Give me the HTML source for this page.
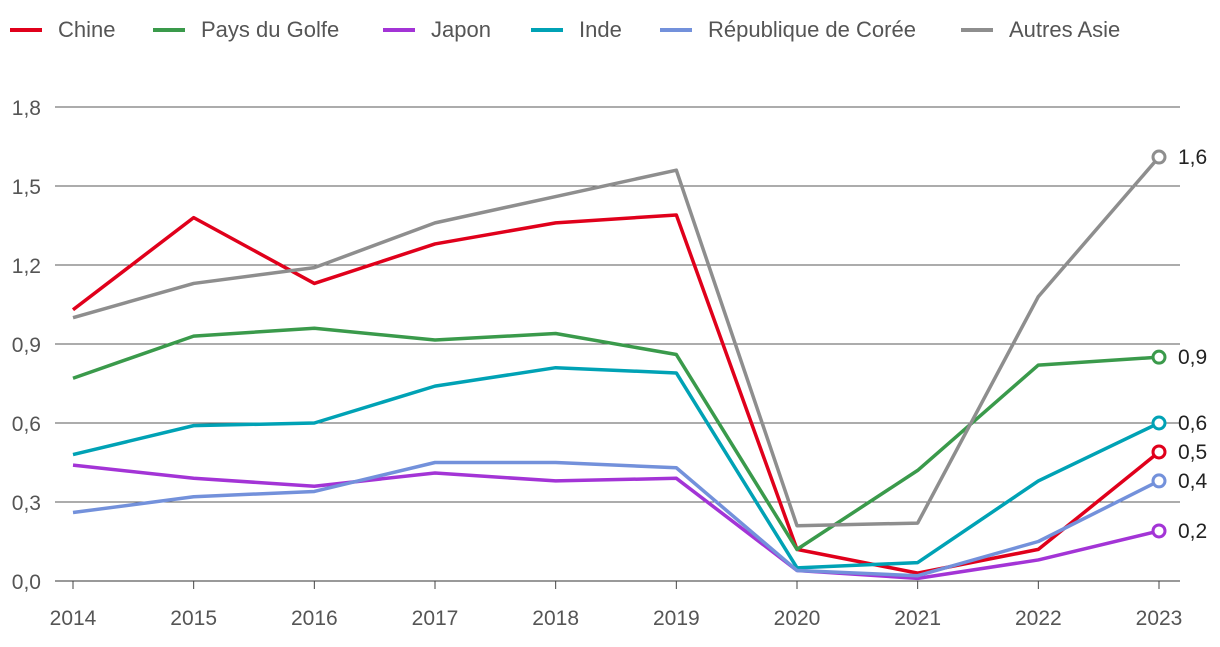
<!DOCTYPE html>
<html><head><meta charset="utf-8"><style>
body{margin:0;background:#fff;font-family:"Liberation Sans",sans-serif;}
svg text{font-family:"Liberation Sans",sans-serif;}
</style></head><body>
<svg id="c" width="1220" height="642"></svg>
<script>
const years=[2014,2015,2016,2017,2018,2019,2020,2021,2022,2023];
const seriesNames=["Chine","Pays du Golfe","Japon","Inde","République de Corée","Autres Asie"];
const seriesColors=["#e0001b","#3a9a4b","#a334d6","#00a2b5","#7391db","#8e8e8e"];
const chine=[1.03,1.38,1.13,1.28,1.36,1.39,0.12,0.03,0.12,0.49];
const golfe=[0.77,0.93,0.96,0.915,0.94,0.86,0.12,0.42,0.82,0.85];
const japon=[0.44,0.39,0.36,0.41,0.38,0.39,0.04,0.01,0.08,0.19];
const inde=[0.48,0.59,0.60,0.74,0.81,0.79,0.05,0.07,0.38,0.60];
const coree=[0.26,0.32,0.34,0.45,0.45,0.43,0.04,0.02,0.15,0.38];
const autres=[1.00,1.13,1.19,1.36,1.46,1.56,0.21,0.22,1.08,1.61];
const yTicks=[0,0.3,0.6,0.9,1.2,1.5,1.8];
const endLabels=["0,5","0,9","0,2","0,6","0,4","1,6"];
const allSeries=[chine,golfe,japon,inde,coree,autres];
const NS="http://www.w3.org/2000/svg";
const svg=document.getElementById('c');
const x=i=>73+i*(1159-73)/(years.length-1);
const y=v=>581-v*(474/1.8);
function el(t,a,p){const e=document.createElementNS(NS,t);for(const k in a)e.setAttribute(k,a[k]);(p||svg).appendChild(e);return e;}
yTicks.forEach(t=>{
  const g=el('line',{x1:55,x2:1180,y1:y(t),y2:y(t),stroke:t===0?'#333':'#5a5a5a','stroke-width':1});
  
  
  const tx=el('text',{x:41,y:y(t)+8,'text-anchor':'end','font-size':21,fill:'#555'});
  tx.textContent=t.toFixed(1).replace('.',',');
  
  
});
years.forEach((yr,i)=>{
  const tk=el('line',{x1:x(i),x2:x(i),y1:581,y2:589,stroke:'#444'});
  
  
  const tx=el('text',{x:x(i),y:625,'text-anchor':'middle','font-size':21,fill:'#555'});
  tx.textContent=yr;
  
  
});
allSeries.forEach((s,k)=>{
  const p=el('polyline',{points:s.map((v,i)=>x(i)+','+y(v)).join(' '),fill:'none',stroke:seriesColors[k],'stroke-width':3.5,'stroke-linejoin':'round'});
  
  
  const n=s.length-1;
  const c=el('circle',{cx:x(n),cy:y(s[n]),r:6,fill:'#fff',stroke:seriesColors[k],'stroke-width':3});
  
  
  const t=el('text',{x:1178,y:y(s[n])+7,'font-size':21,fill:'#222'});
  t.textContent=endLabels[k];
  
  
});
const lx=[10,153,383,531,660,961];
seriesNames.forEach((n,k)=>{
  const l=el('line',{x1:lx[k],x2:lx[k]+32,y1:30,y2:30,stroke:seriesColors[k],'stroke-width':4});
  
  
  const t=el('text',{x:lx[k]+48,y:37,'font-size':22,fill:'#555'});
  t.textContent=n;
  
  
});
</script>
</body></html>
